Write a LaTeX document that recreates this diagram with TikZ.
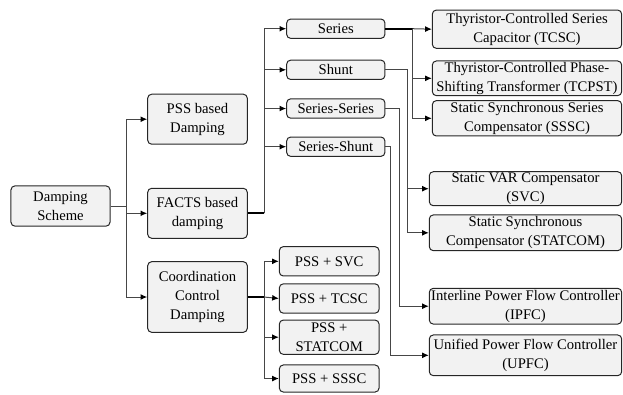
\documentclass[tikz,border=0pt]{standalone}
\usepackage{fontspec}
\setmainfont{Liberation Serif}
\usetikzlibrary{arrows.meta}
\begin{document}
\begin{tikzpicture}[x=0.75pt,y=-0.75pt,>={Latex[length=5pt,width=4.4pt,color=black]}]
		%---------------- Colors & styles ----------------
		\definecolor{boxfill}{RGB}{242,242,242} % light gray box fill
		\definecolor{wire}{RGB}{70,70,70}       % thin connector gray
		\tikzset{
			blk/.style={draw=black!85, fill=boxfill, rounded corners=3pt, line width=0.75pt,
				inner sep=0pt, align=center, font=\fontsize{11}{14.2}\selectfont}, % boxes
			trunk/.style={black, line width=1.5pt},  % thick stems
			feed/.style={wire, line width=0.75pt},   % thin branches
		}
		\useasboundingbox (0,0) rectangle (623,394);
		
		%---------------- Bus x-positions ----------------
		\def\xa{126.7}  % scheme -> level 1
		\def\xb{264}    % facts / coordination -> level 2
		\def\xc{412.5}  % series
		\def\xd{407.3}  % shunt
		\def\xe{399.3}  % series-series
		\def\xf{390}    % series-shunt
		
		%---------------- Level 0 and 1 ----------------
		\node[blk, minimum width=74.3pt, minimum height=30.2pt] (scheme) at (60.5,206) {Damping\\Scheme};
		\node[blk, minimum width=74.7pt, minimum height=37.5pt] (pss) at (197.5,119.2) {PSS based\\Damping};
		\node[blk, minimum width=74.7pt, minimum height=37.5pt] (facts) at (197.5,213.3) {FACTS based\\damping};
		\node[blk, minimum width=74.7pt, minimum height=53pt] (coord) at (197.5,297) {Coordination\\Control\\Damping};
		
		%---------------- FACTS types ----------------
		\node[blk, minimum width=73.7pt, minimum height=14.5pt] (series) at (335.8,28.7) {Series};
		\node[blk, minimum width=73.7pt, minimum height=14.5pt] (shunt) at (335.8,69.8) {Shunt};
		\node[blk, minimum width=73.7pt, minimum height=14.5pt] (serser) at (335.8,108.5) {Series-Series};
		\node[blk, minimum width=73.7pt, minimum height=14.5pt] (sershunt) at (335.8,146.7) {Series-Shunt};
		
		%---------------- Coordinated schemes ----------------
		\node[blk, minimum width=74.8pt, minimum height=22pt] (psssvc) at (329.2,261.3) {PSS + SVC};
		\node[blk, minimum width=74.8pt, minimum height=22pt] (psstcsc) at (329.2,298.5) {PSS + TCSC};
		\node[blk, minimum width=74.8pt, minimum height=25.7pt] (psstat) at (329.2,337.2) {PSS +\\STATCOM};
		\node[blk, minimum width=74.8pt, minimum height=20.3pt] (pssssc) at (329.2,378.5) {PSS + SSSC};
		
		%---------------- FACTS devices ----------------
		\node[blk, minimum width=142pt, minimum height=28.7pt] (tcsc) at (527,29.2) {Thyristor-Controlled Series\\Capacitor (TCSC)};
		\node[blk, minimum width=142pt, minimum height=26pt] (tcpst) at (527,78.3) {Thyristor-Controlled Phase-\\Shifting Transformer (TCPST)};
		\node[blk, minimum width=142pt, minimum height=26.5pt] (sssc) at (527,118.3) {Static Synchronous Series\\Compensator (SSSC)};
		\node[blk, minimum width=144.3pt, minimum height=25.5pt] (svc) at (525.5,188.7) {Static VAR Compensator\\(SVC)};
		\node[blk, minimum width=144.3pt, minimum height=26.8pt] (statcom) at (525.5,232.8) {Static Synchronous\\Compensator (STATCOM)};
		\node[blk, minimum width=144.3pt, minimum height=26.8pt] (ipfc) at (525.5,306.2) {Interline Power Flow Controller\\(IPFC)};
		\node[blk, minimum width=144.3pt, minimum height=30.5pt] (upfc) at (525.5,355.3) {Unified Power Flow Controller\\(UPFC)};
		
		%---------------- Scheme -> level 1 ----------------
		\draw[feed, ->] (scheme.east) -- (\xa,206) |- (pss.west);
		\draw[feed, ->] (\xa,206) |- (facts.west);
		\draw[feed, ->] (\xa,206) |- (coord.west);
		
		%---------------- FACTS -> types ----------------
		\coordinate (fj) at (\xb,213.3);
		\draw[trunk] (facts.east) -- (fj);
		\draw[feed, ->] (fj) |- (series.west);
		\draw[feed, ->] (fj) |- (shunt.west);
		\draw[feed, ->] (fj) |- (serser.west);
		\draw[feed, ->] (fj) |- (sershunt.west);
		
		%---------------- Coordination -> PSS combos ----------------
		\coordinate (cj) at (\xb,297);
		\draw[trunk] (coord.east) -- (cj);
		\draw[feed, ->] (cj) |- (psssvc.west);
		\draw[feed, ->] (cj) -- (psstcsc.west);
		\draw[feed, ->] (cj) |- (psstat.west);
		\draw[feed, ->] (cj) |- (pssssc.west);
		
		%---------------- Types -> devices ----------------
		\coordinate (sj) at (\xc,28.7);
		\draw[trunk] (series.east) -- (sj);
		\draw[feed, ->] (sj) -- (tcsc.west);
		\draw[feed, ->] (sj) |- (tcpst.west);
		\draw[feed, ->] (sj) |- (sssc.west);
		\draw[feed, ->] (shunt.east) -| (\xd,188.7) -- (svc.west);
		\draw[feed, ->] (\xd,188.7) |- (statcom.west);
		\draw[feed, ->] (serser.east) -| (\xe,306.2) -- (ipfc.west);
		\draw[feed, ->] (sershunt.east) -| (\xf,355.3) -- (upfc.west);
	\end{tikzpicture}
\end{document}
